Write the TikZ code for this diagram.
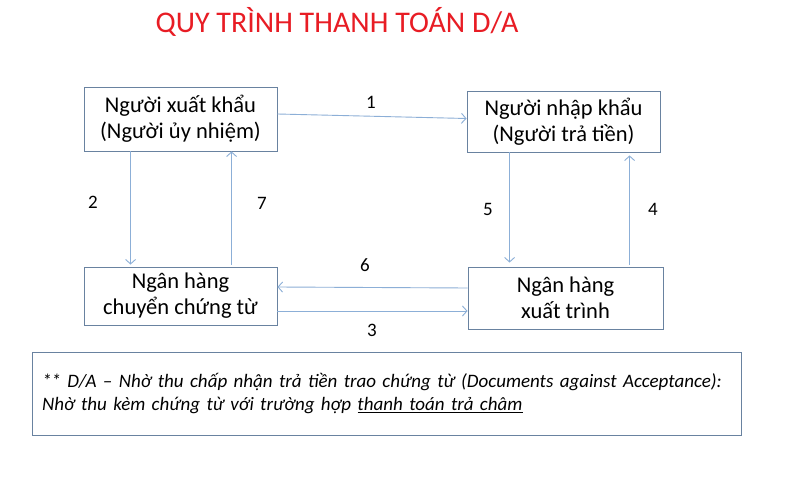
\documentclass[tikz,border=0pt]{standalone}
\usepackage{fontspec}
\setmainfont{Carlito}
\usepackage{tikz}
\usetikzlibrary{arrows, arrows.meta}
\definecolor{boxline}{RGB}{105,130,160}
\definecolor{arrowline}{RGB}{140,175,215}
\definecolor{titlered}{RGB}{232,28,36}
\tikzstyle{box} = [
	rectangle,
	draw=boxline,
	line width=0.9pt,
	inner sep=0pt,
	minimum width=193pt,
	align=center,
	font=\fontsize{22.5}{26}\selectfont
]
\tikzstyle{arrow} = [draw=arrowline, line width=0.9pt, -{Straight Barb[length=4.5pt, width=10pt]}]
\tikzstyle{num} = [text=black, font=\fontsize{19}{22}\selectfont]

\begin{document}
\begin{tikzpicture}[x=1pt, y=-1pt]
    \fill[white] (0, 0) rectangle (800, 481);
    \useasboundingbox (0, 0) rectangle (800, 481);
    \node at (337, 22) (title) [text=titlered, font=\fontsize{30}{33}\selectfont] {QUY TRÌNH THANH TOÁN D/A};
    \node at (180.5, 119) (exporter) [box, minimum height=64pt] {Người xuất khẩu\\(Người ủy nhiệm)};
    \node at (563.5, 121.5) (importer) [box, minimum height=61pt] {Người nhập khẩu\\(Người trả tiền)};
    \node at (180.5, 296) (remitbank) [box, minimum height=58pt] {Ngân hàng\\chuyển chứng từ};
    \node at (565.5, 298) (presentbank) [box, minimum width=195pt, minimum height=62pt] {Ngân hàng\\xuất trình};
    \node at (386.5, 393.5) (note) [rectangle, draw=boxline, line width=0.9pt, minimum width=709pt, minimum height=83pt,
      text width=689pt, align=left, font=\fontsize{19}{23}\selectfont\itshape]
      {** D/A – Nhờ thu chấp nhận trả tiền trao chứng từ (Documents against Acceptance):\\
       Nhờ thu kèm chứng từ với trường hợp \underline{thanh toán trả châm}};
    \draw [arrow] ([yshift=5]exporter.east) -- ([yshift=3]importer.west);
    \draw [arrow, shorten >=2pt] ([xshift=47]exporter.south west) -- ([xshift=47]remitbank.north west);
    \draw [arrow, shorten <=2pt] ([xshift=148]remitbank.north west) -- ([xshift=148]exporter.south west);
    \draw [arrow, shorten >=4pt] ([xshift=43]importer.south west) -- ([xshift=42]presentbank.north west);
    \draw [arrow, shorten >=3pt, shorten <=2pt] ([xshift=162]presentbank.north west) -- ([xshift=163]importer.south west);
    \draw [arrow] ([yshift=10]presentbank.west) -- ([yshift=9]remitbank.east);
    \draw [arrow] ([yshift=-15]remitbank.east) -- ([yshift=-13]presentbank.west);
    \node at (371, 102) (lbl1) [num] {1};
    \node at (93, 202) (lbl2) [num] {2};
    \node at (372, 330) (lbl3) [num] {3};
    \node at (653, 209) (lbl4) [num] {4};
    \node at (488, 209) (lbl5) [num] {5};
    \node at (365, 265) (lbl6) [num] {6};
    \node at (262, 203) (lbl7) [num] {7};
\end{tikzpicture}
\end{document}
